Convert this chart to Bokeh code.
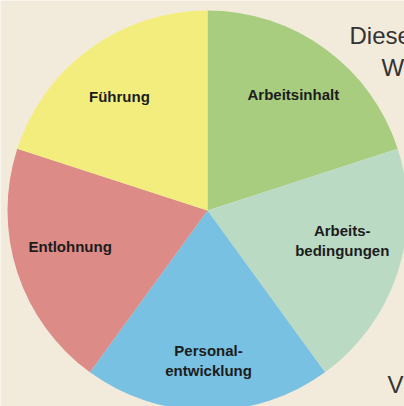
import math
from bokeh.plotting import figure
from bokeh.models import ColumnDataSource, Range1d
from bokeh.core.properties import value
from bokeh.embed import file_html
from bokeh.resources import INLINE

# ---- data ----
categories = ["Arbeitsinhalt", "Arbeits-\nbedingungen", "Personal-\nentwicklung", "Entlohnung", "Führung"]
shares = [20, 20, 20, 20, 20]
colors = ["#a9cd7e", "#badac4", "#78c1e3", "#dc8b87", "#f3ed7e"]
side_text = ["Diese", "W", "V"]

# ---- layout ----
W, H = 404, 406
BG = "#f2ebdc"
cx, cy, R = 207, 196, 200          # plot coordinates (y up)
label_r = [0.72, 0.69, 0.75, 0.71, 0.72]
label_da = [-0.6, 5.5, 0.4, -3.3, 1.7]   # degrees nudge
side_x = [349, 381, 387]
side_y = [371, 339, 22]

total = float(sum(shares))
starts, ends, lx, ly = [], [], [], []
cum = 0.0
for i, s in enumerate(shares):
    a_end = 90 - 360 * cum / total
    cum += s
    a_start = 90 - 360 * cum / total
    starts.append(math.radians(a_start))
    ends.append(math.radians(a_end))
    mid = math.radians((a_start + a_end) / 2 + label_da[i])
    lx.append(cx + label_r[i] * R * math.cos(mid))
    ly.append(cy + label_r[i] * R * math.sin(mid))

p = figure(width=W, height=H, output_backend="svg", toolbar_location=None,
           x_range=Range1d(0, W), y_range=Range1d(0, H),
           min_border=0, background_fill_color=BG, border_fill_color=BG)
p.axis.visible = False
p.grid.visible = False
p.outline_line_color = None

# side text (behind the pie)
p.text(x=side_x, y=side_y, text=side_text, text_font=value("Liberation Sans"),
       text_font_size="24px", text_color="#333333", text_baseline="alphabetic",
       text_align="left")

src = ColumnDataSource(dict(start=starts, end=ends, color=colors))
p.wedge(x=cx, y=cy, radius=R, start_angle="start", end_angle="end",
        fill_color="color", line_color=None, source=src)

p.text(x=lx, y=ly, text=categories, text_font=value("Liberation Sans"),
       text_font_style="bold", text_font_size="15px", text_color="#1c1c1c",
       text_align="center", text_baseline="middle", text_line_height=1.15)

html = file_html(p, INLINE)
html = html.replace("<body>", '<body style="margin:0;background:%s">' % BG, 1)
open("out.html", "w").write(html)
